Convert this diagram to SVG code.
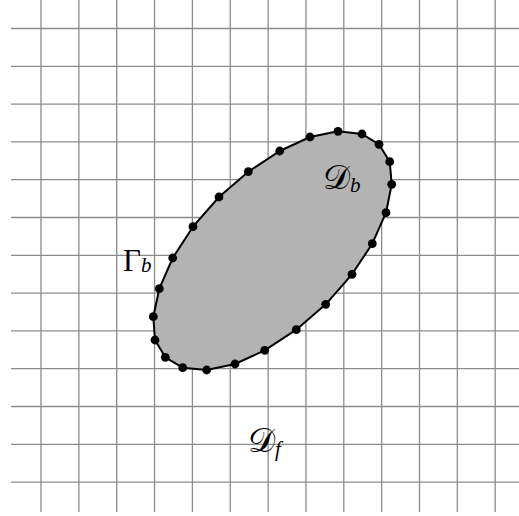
<svg xmlns="http://www.w3.org/2000/svg" width="519" height="516" viewBox="0 0 519 516">
<style>
.g{stroke:#8c8c8c;stroke-width:1.3;fill:none}
.b{fill:#b3b3b3;stroke:#000;stroke-width:2;stroke-linejoin:round}
.d{fill:#000}
.t{font-family:"Liberation Serif","DejaVu Serif",serif;fill:#000}
.s{font-style:italic;font-size:21px}
</style>
<rect width="519" height="516" fill="#fff"/>
<g id="grid" class="g">
<path d="M41 0V512M78.85 0V512M116.7 0V512M154.55 0V512M192.4 0V512M230.25 0V512M268.1 0V512M305.95 0V512M343.8 0V512M381.65 0V512M419.5 0V512M457.35 0V512M495.2 0V512"/>
<path d="M11 28.5H519M11 66.3H519M11 104.1H519M11 141.9H519M11 179.7H519M11 217.5H519M11 255.3H519M11 293.1H519M11 330.9H519M11 368.7H519M11 406.5H519M11 444.3H519M11 482.1H519"/>
</g>
<g id="body">
<polygon class="b" points="172.7,258 193,226.7 219,197 248.3,171.7 279.7,151 310,137 338,131.3 362,134 379,144.3 389.7,161.7 391.7,184.3 386,212.7 372.3,243.7 352,274.3 325.7,304.3 296.3,329.7 264.7,350.3 235,364 206.7,370 182.7,367.7 165.3,357.3 155,340 153.3,316.7 159.3,288.7"/>
<g class="d">
<circle cx="172.7" cy="258" r="4.4"/><circle cx="193" cy="226.7" r="4.4"/><circle cx="219" cy="197" r="4.4"/><circle cx="248.3" cy="171.7" r="4.4"/><circle cx="279.7" cy="151" r="4.4"/><circle cx="310" cy="137" r="4.4"/><circle cx="338" cy="131.3" r="4.4"/><circle cx="362" cy="134" r="4.4"/><circle cx="379" cy="144.3" r="4.4"/><circle cx="389.7" cy="161.7" r="4.4"/><circle cx="391.7" cy="184.3" r="4.4"/><circle cx="386" cy="212.7" r="4.4"/><circle cx="372.3" cy="243.7" r="4.4"/><circle cx="352" cy="274.3" r="4.4"/><circle cx="325.7" cy="304.3" r="4.4"/><circle cx="296.3" cy="329.7" r="4.4"/><circle cx="264.7" cy="350.3" r="4.4"/><circle cx="235" cy="364" r="4.4"/><circle cx="206.7" cy="370" r="4.4"/><circle cx="182.7" cy="367.7" r="4.4"/><circle cx="165.3" cy="357.3" r="4.4"/><circle cx="155" cy="340" r="4.4"/><circle cx="153.3" cy="316.7" r="4.4"/><circle cx="159.3" cy="288.7" r="4.4"/>
</g>
</g>
<g id="labels" class="t">
<text x="123" y="271" font-size="31">Γ<tspan class="s" dy="1">b</tspan></text>
<text x="323" y="189" font-size="34">𝒟<tspan class="s" dy="3">b</tspan></text>
<text x="248" y="452" font-size="34">𝒟<tspan class="s" dy="4">f</tspan></text>
</g>
</svg>
